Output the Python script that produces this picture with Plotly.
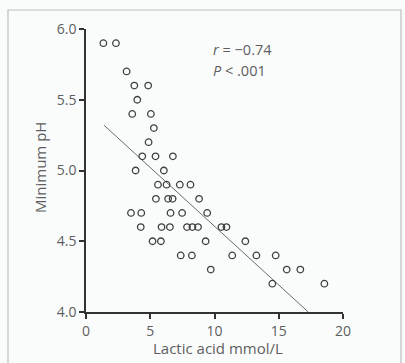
import plotly.graph_objects as go

# Data
lactic = [1.35, 2.33,
          3.16,
          3.76, 4.84,
          3.99,
          3.6, 5.05,
          5.28,
          4.87,
          4.38, 5.41, 6.76,
          3.86, 6.06,
          5.6, 6.27, 7.3, 8.13,
          5.44, 6.39, 6.74, 8.8,
          3.5, 4.3, 6.58, 7.48, 9.43,
          4.26, 5.88, 6.53, 7.86, 8.28, 8.72, 10.54, 10.93,
          5.18, 5.83, 9.31, 12.4,
          7.37, 8.24, 11.38, 13.26, 14.76,
          9.71, 15.62, 16.68,
          14.5, 18.55]
min_ph = [5.9, 5.9,
          5.7,
          5.6, 5.6,
          5.5,
          5.4, 5.4,
          5.3,
          5.2,
          5.1, 5.1, 5.1,
          5.0, 5.0,
          4.9, 4.9, 4.9, 4.9,
          4.8, 4.8, 4.8, 4.8,
          4.7, 4.7, 4.7, 4.7, 4.7,
          4.6, 4.6, 4.6, 4.6, 4.6, 4.6, 4.6, 4.6,
          4.5, 4.5, 4.5, 4.5,
          4.4, 4.4, 4.4, 4.4, 4.4,
          4.3, 4.3, 4.3,
          4.2, 4.2]

fit_x = [1.4, 17.3]
fit_y = [5.32, 4.0]

x_ticks = [0, 5, 10, 15, 20]
y_ticks = [4.0, 4.5, 5.0, 5.5, 6.0]

x_title = "Lactic acid mmol/L"
y_title = "Minimum pH"

FONT = "Open Sans"
TXT = "#5e5e5e"
AX = "#333333"

fig = go.Figure()
fig.add_trace(go.Scatter(x=fit_x, y=fit_y, mode="lines",
                         line=dict(color="#6a6a6a", width=1), hoverinfo="skip"))
fig.add_trace(go.Scatter(x=lactic, y=min_ph, mode="markers",
                         marker=dict(symbol="circle-open", size=6.5,
                                     color="#3f3f3f", line=dict(width=1.3)),
                         cliponaxis=False))

fig.add_annotation(x=9.75, y=5.855, xref="x", yref="y", xanchor="left",
                   text="<i>r</i> = \u22120.74", showarrow=False,
                   font=dict(family=FONT, size=14.5, color=TXT))
fig.add_annotation(x=9.75, y=5.705, xref="x", yref="y", xanchor="left",
                   text="<i>P</i> < .001", showarrow=False,
                   font=dict(family=FONT, size=14.5, color=TXT))

# axis titles
fig.add_annotation(x=(218 - 86) / 257, y=(312 - 348) / 283, xref="paper", yref="paper",
                   xanchor="center", yanchor="middle", text=x_title, showarrow=False,
                   font=dict(family=FONT, size=15, color=TXT))
fig.add_annotation(x=(40 - 86) / 257, y=(312 - 168) / 283, xref="paper", yref="paper",
                   xanchor="center", yanchor="middle", text=y_title, showarrow=False,
                   textangle=-90, font=dict(family=FONT, size=15, color=TXT))

fig.add_shape(type="rect", xref="paper", yref="paper",
              x0=(8 - 86) / 257, x1=(401 - 86) / 257,
              y0=(312 - 380) / 283, y1=(312 - 10) / 283,
              line=dict(color="#bdbdbd", width=1.2), layer="below")

fig.update_layout(
    width=405, height=363,
    margin=dict(l=86, r=62, t=29, b=51),
    paper_bgcolor="#fafcfc", plot_bgcolor="#fafcfc",
    showlegend=False,
    font=dict(family=FONT, size=12, color=TXT),
)
fig.update_xaxes(range=[0, 20], tickvals=x_ticks, ticktext=[str(v) for v in x_ticks],
                 showgrid=False, zeroline=False, showline=True, linecolor=AX, linewidth=1.5,
                 ticks="outside", ticklen=5, tickwidth=1.5, tickcolor=AX,
                 tickfont=dict(family=FONT, size=14, color=TXT))
fig.update_yaxes(range=[4, 6], tickvals=y_ticks, ticktext=[f"{v:.1f}" for v in y_ticks],
                 showgrid=False, zeroline=False, showline=True, linecolor=AX, linewidth=1.5,
                 ticks="outside", ticklen=5, tickwidth=1.5, tickcolor=AX,
                 tickfont=dict(family=FONT, size=14, color=TXT))

fig.write_html("out.html")
